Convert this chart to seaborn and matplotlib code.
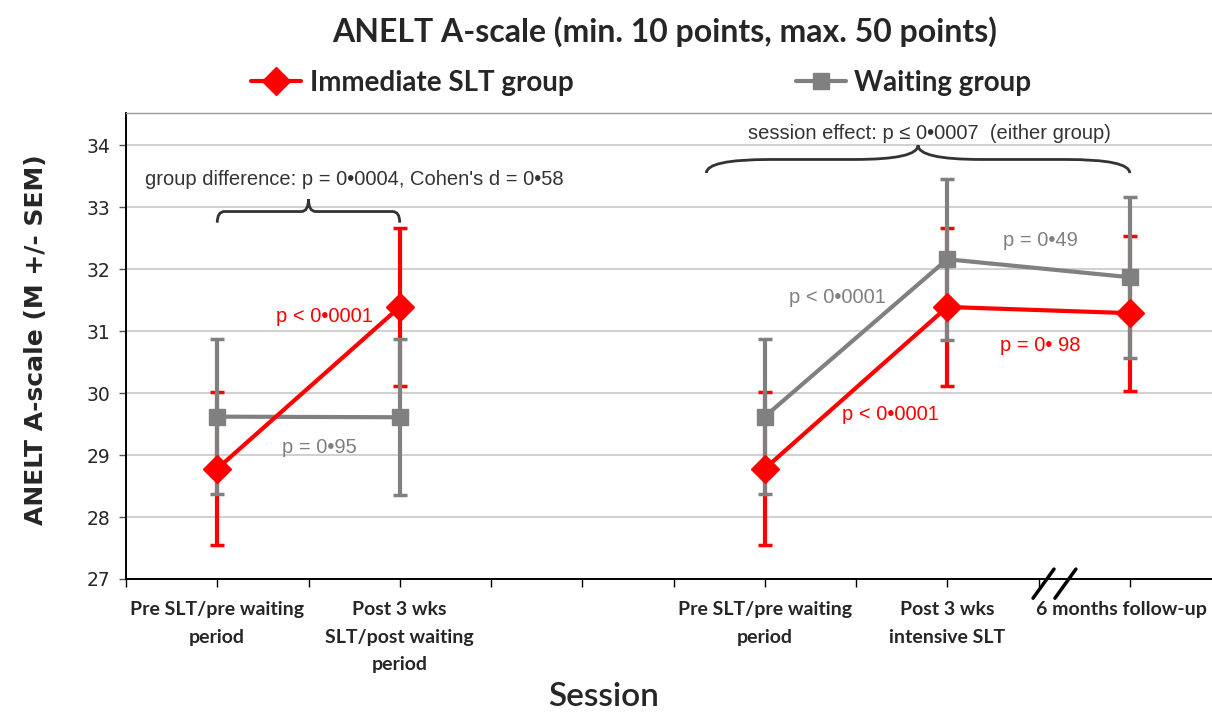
import numpy as np
import pandas as pd
import seaborn as sns
import matplotlib.pyplot as plt
import matplotlib.transforms as mtransforms
from matplotlib.lines import Line2D
from matplotlib.path import Path
from matplotlib.patches import PathPatch

# ============ DATA ============
session_pos = [1, 2, 4, 5, 6]
segment = ["first", "first", "second", "second", "second"]
tick_labels = [
    "Pre SLT/pre waiting\nperiod",
    "Post 3 wks\nSLT/post waiting\nperiod",
    "Pre SLT/pre waiting\nperiod",
    "Post 3 wks\nintensive SLT",
    "6 months follow-up",
]
immediate_mean = [28.78, 31.39, 28.78, 31.39, 31.29]
immediate_sem = [1.23, 1.28, 1.23, 1.28, 1.25]
waiting_mean = [29.62, 29.61, 29.62, 32.16, 31.87]
waiting_sem = [1.25, 1.26, 1.25, 1.30, 1.30]

RED = "#ff0000"
GREY = "#808080"
TXT = "#333333"

sns.set_style("white")
plt.rcParams["font.family"] = ["DejaVu Sans"]

fig = plt.figure(figsize=(12.12, 7.13), dpi=100)
ax = fig.add_axes([126 / 1212, (713 - 579) / 713, (1221 - 126) / 1212, (579 - 113) / 713])

groups = [
    ("Immediate SLT group", immediate_mean, immediate_sem, RED, "D", 14, 2, 6),
    ("Waiting group", waiting_mean, waiting_sem, GREY, "s", 11, 3, 5),
]

handles = []
for name, mean, sem, color, marker, ms, ez, lz in groups:
    df = pd.DataFrame({"session": session_pos, "score": mean, "segment": segment})
    ax.errorbar(session_pos, mean, yerr=sem, fmt="none", ecolor=color,
                elinewidth=3, capsize=5, capthick=2.5, zorder=ez)
    sns.lineplot(data=df, x="session", y="score", units="segment", estimator=None,
                 sort=False, color=color, marker=marker, markersize=ms,
                 markeredgecolor=color, markeredgewidth=1, linewidth=3,
                 legend=False, ax=ax, zorder=lz)
    handles.append(Line2D([], [], color=color, marker=marker, markersize=ms,
                          markeredgecolor=color, lw=3, label=name))

# ============ AXES ============
ax.set_xlim(0.5, 6.5)
ax.set_ylim(27, 34.52)
ax.set_yticks(range(27, 35))
ax.tick_params(axis="y", length=5, width=1, color="#555555", direction="out",
               pad=6, labelsize=13.5, left=True)
ticks = np.arange(0.5, 6.6, 0.5)
ax.set_xticks(ticks)
lab_map = dict(zip(session_pos, tick_labels))
ax.set_xticklabels([lab_map.get(t, "") for t in ticks], fontfamily="Lato",
                   fontweight="bold", fontsize=14, linespacing=1.75)
ax.tick_params(axis="x", length=6, width=1, color="black", direction="out",
               pad=10, bottom=True)

# last label sits at the right edge: nudge it left so it stays inside
shift = mtransforms.ScaledTranslation(-8 / 100, 0, fig.dpi_scale_trans)
last = ax.get_xticklabels()[list(ticks).index(6.0)]
last.set_transform(last.get_transform() + shift)

ax.yaxis.grid(True, color="#c8c8c8", lw=1.2)
ax.xaxis.grid(False)
ax.set_axisbelow(True)
for s in ["left", "bottom"]:
    ax.spines[s].set_color("black")
    ax.spines[s].set_linewidth(1.4)
ax.spines["top"].set_color("#999999")
ax.spines["top"].set_linewidth(1)
ax.spines["right"].set_visible(False)

ax.set_ylabel("ANELT A-scale (M +/- SEM)", fontsize=18, fontweight="bold")
ax.yaxis.set_label_coords(-0.071, 0.513)
ax.set_xlabel("Session", fontfamily="Lato", fontweight="semibold", fontsize=24)
ax.xaxis.set_label_coords(0.436, -0.22)

# axis break marks
for x0 in [5.47, 5.59]:
    ax.plot([x0, x0 + 0.115], [26.69, 27.16], color="black", lw=2.5,
            clip_on=False, zorder=7)


# ============ BRACES ============
def brace(x0, x1, y_end, y_mid, y_tip, r):
    xc = (x0 + x1) / 2
    verts = [(x0, y_end), (x0, y_mid), (x0 + r, y_mid), (xc - r, y_mid),
             (xc, y_mid), (xc, y_tip), (xc, y_mid), (xc + r, y_mid),
             (x1 - r, y_mid), (x1, y_mid), (x1, y_end)]
    codes = [Path.MOVETO, Path.CURVE3, Path.CURVE3, Path.LINETO,
             Path.CURVE3, Path.CURVE3, Path.CURVE3, Path.CURVE3,
             Path.LINETO, Path.CURVE3, Path.CURVE3]
    ax.add_patch(PathPatch(Path(verts, codes), fill=False, edgecolor=TXT, lw=2, zorder=7))


brace(1.0, 2.0, 32.75, 32.93, 33.13, 0.04)
brace(3.68, 6.0, 33.55, 33.77, 34.0, 0.35)

# ============ ANNOTATIONS ============
ann_font = ["Liberation Sans", "DejaVu Sans"]
fs = 14.5
ax.text(1.75, 33.44, "group difference: p = 0\u20220004, Cohen's d = 0\u202258",
        color=TXT, fontsize=fs, family=ann_font, ha="center", va="center")
ax.text(4.905, 34.19, "session effect: p \u2264 0\u20220007  (either group)",
        color=TXT, fontsize=fs, family=ann_font, ha="center", va="center")
ax.text(1.59, 31.23, "p < 0\u20220001", color=RED, fontsize=fs, family=ann_font,
        ha="center", va="center")
ax.text(1.56, 29.13, "p = 0\u202295", color=GREY, fontsize=fs, family=ann_font,
        ha="center", va="center")
ax.text(4.40, 31.55, "p < 0\u20220001", color=GREY, fontsize=fs, family=ann_font,
        ha="center", va="center")
ax.text(5.51, 32.47, "p = 0\u202249", color=GREY, fontsize=fs, family=ann_font,
        ha="center", va="center")
ax.text(5.51, 30.77, "p = 0\u2022 98", color=RED, fontsize=fs, family=ann_font,
        ha="center", va="center")
ax.text(4.69, 29.65, "p < 0\u20220001", color=RED, fontsize=fs, family=ann_font,
        ha="center", va="center")

# ============ TITLE + LEGEND ============
fig.text(665 / 1212, 1 - 32 / 713, "ANELT A-scale (min. 10 points, max. 50 points)",
         fontfamily="Lato", fontweight="bold", fontsize=23, ha="center", va="center")
fig.legend(handles=handles, loc="center", bbox_to_anchor=(0.529, 1 - 83 / 713),
           ncol=2, frameon=False, handlelength=1.8, handletextpad=0.3,
           columnspacing=8.0, prop={"family": "Lato", "weight": "bold", "size": 20})

fig.patch.set_facecolor("white")
plt.savefig("out.png", dpi=100)
plt.close()
